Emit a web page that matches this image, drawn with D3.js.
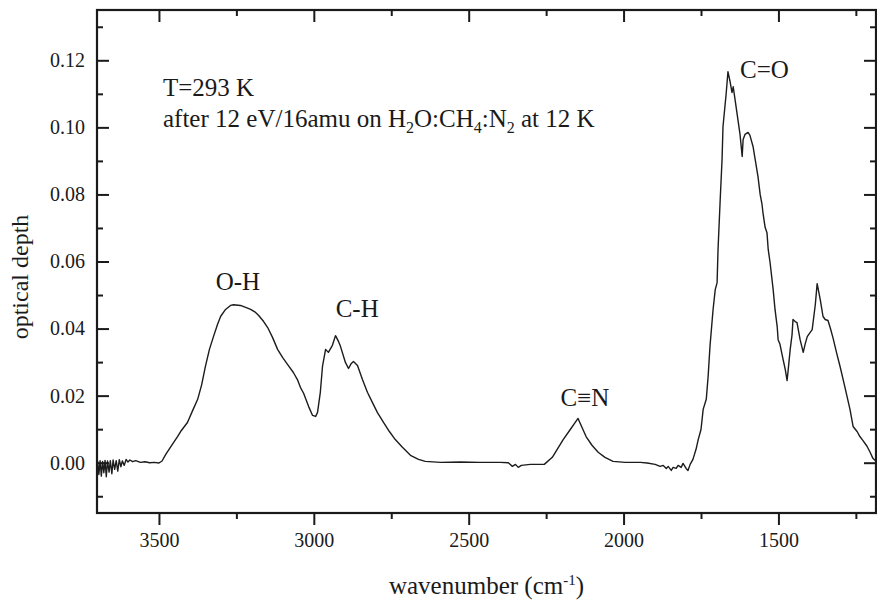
<!DOCTYPE html>
<html>
<head>
<meta charset="utf-8">
<script src="https://cdn.jsdelivr.net/npm/d3@7/dist/d3.min.js"></script>
<style>
  html, body { margin: 0; padding: 0; background: #fff; }
  svg { display: block; }
  text { font-family: "Liberation Serif", "Times New Roman", serif; fill: #1a1a1a; }
</style>
</head>
<body>
<svg id="chart" width="877" height="601"></svg>
<script>
// IR spectrum: wavenumber (cm^-1) and optical depth
const wavenumber = [
  3698, 3694, 3690, 3686, 3682, 3678, 3674, 3670, 3666, 3661, 3657, 3652, 3648, 3643, 3638, 3633,
  3628, 3623, 3618, 3612, 3606, 3600, 3594, 3585, 3575, 3560, 3545, 3530, 3515, 3500, 3490, 3478,
  3453, 3440, 3430, 3408, 3391, 3375, 3362, 3350, 3337, 3324, 3311, 3301, 3285, 3269, 3259, 3237,
  3220, 3204, 3188, 3178, 3162, 3149, 3133, 3117, 3101, 3085, 3066, 3053, 3043, 3033, 3017, 3004,
  2994, 2988, 2979, 2972, 2962, 2953, 2940, 2930, 2920, 2914, 2898, 2888, 2879, 2872, 2859, 2843,
  2827, 2811, 2795, 2775, 2756, 2737, 2714, 2688, 2662, 2640, 2591, 2527, 2462, 2398, 2372, 2359,
  2349, 2340, 2330, 2301, 2256, 2230, 2195, 2172, 2156, 2147, 2134, 2121, 2102, 2082, 2060, 2034,
  1995, 1946, 1924, 1898, 1882, 1872, 1862, 1856, 1846, 1840, 1830, 1824, 1814, 1808, 1798, 1792,
  1785, 1776, 1766, 1759, 1750, 1743, 1733, 1727, 1721, 1711, 1704, 1698, 1695, 1688, 1682, 1679,
  1669, 1663, 1656, 1650, 1646, 1640, 1634, 1624, 1617, 1614, 1608, 1598, 1592, 1582, 1575, 1566,
  1559, 1553, 1550, 1543, 1537, 1533, 1527, 1517, 1511, 1504, 1501, 1495, 1485, 1478, 1472, 1469,
  1462, 1456, 1453, 1446, 1440, 1430, 1420, 1414, 1407, 1398, 1391, 1381, 1375, 1365, 1356, 1349,
  1340, 1333, 1324, 1311, 1301, 1285, 1269, 1259, 1246, 1237, 1227, 1214, 1204, 1195, 1185
];
const opticalDepth = [
  0.0005, -0.0035, 0.0006, -0.0040, 0.0004, -0.0030, 0.0007, -0.0042, 0.0005, -0.0028, 0.0006, -0.0033, 0.0008, -0.0020, 0.0006, -0.0025,
  0.0009, -0.0012, 0.0005, -0.0008, 0.0010, 0.0002, 0.0008, 0.0003, 0.0006, 0.0001, 0.0003, 0.0000, 0.0001, -0.0001, 0.0005, 0.0025,
  0.0060, 0.0078, 0.0093, 0.0120, 0.0156, 0.0189, 0.0233, 0.0287, 0.0338, 0.0376, 0.0412, 0.0436, 0.0457, 0.0469, 0.0471, 0.0469,
  0.0463, 0.0457, 0.0448, 0.0439, 0.0421, 0.0403, 0.0373, 0.0338, 0.0314, 0.0293, 0.0269, 0.0248, 0.0224, 0.0207, 0.0168, 0.0141,
  0.0138, 0.0150, 0.0210, 0.0287, 0.0338, 0.0329, 0.0350, 0.0379, 0.0361, 0.0347, 0.0299, 0.0281, 0.0296, 0.0302, 0.0290, 0.0248,
  0.0210, 0.0180, 0.0150, 0.0120, 0.0093, 0.0069, 0.0046, 0.0022, 0.0010, 0.0004, 0.0001, 0.0002, 0.0001, 0.0001, 0.0000, -0.0011,
  -0.0005, -0.0014, -0.0008, -0.0005, -0.0005, 0.0016, 0.0069, 0.0099, 0.0120, 0.0132, 0.0105, 0.0078, 0.0052, 0.0031, 0.0016, 0.0004,
  0.0001, 0.0001, -0.0001, -0.0005, -0.0011, -0.0008, -0.0017, -0.0011, -0.0023, -0.0014, -0.0017, -0.0008, -0.0014, -0.0002, -0.0017, -0.0023,
  -0.0005, 0.0010, 0.0040, 0.0069, 0.0099, 0.0159, 0.0189, 0.0257, 0.0347, 0.0457, 0.0516, 0.0537, 0.0636, 0.0785, 0.0904, 0.1002,
  0.1098, 0.1166, 0.1136, 0.1104, 0.1121, 0.1083, 0.1044, 0.0979, 0.0913, 0.0964, 0.0979, 0.0985, 0.0976, 0.0943, 0.0904, 0.0853,
  0.0800, 0.0770, 0.0746, 0.0702, 0.0686, 0.0636, 0.0597, 0.0516, 0.0457, 0.0406, 0.0367, 0.0353, 0.0308, 0.0278, 0.0245, 0.0272,
  0.0338, 0.0382, 0.0427, 0.0421, 0.0418, 0.0367, 0.0329, 0.0353, 0.0376, 0.0388, 0.0397, 0.0471, 0.0534, 0.0486, 0.0436, 0.0427,
  0.0424, 0.0403, 0.0373, 0.0323, 0.0287, 0.0224, 0.0159, 0.0108, 0.0093, 0.0078, 0.0066, 0.0049, 0.0031, 0.0013, 0.0004
];

const xMajorTicks = [3500, 3000, 2500, 2000, 1500];
const xMinorTicks = [3250, 2750, 2250, 1750, 1250];
const yMajorTicks = [0.00, 0.02, 0.04, 0.06, 0.08, 0.10, 0.12];
const yMinorTicks = [-0.01, 0.01, 0.03, 0.05, 0.07, 0.09, 0.11, 0.13];

// Band labels placed at their wavenumber / optical depth
const bandNames = ["O-H", "C-H", "C\u2261N", "C=O"];
const bandX = [3245, 2860, 2125, 1545];
const bandY = [0.0515, 0.0435, 0.0168, 0.1147];

const svg = d3.select("#chart");
const plotLeft = 97, plotRight = 876, plotTop = 10, plotBottom = 513;

const x = d3.scaleLinear().domain([3700, 1185]).range([plotLeft, plotRight]);
const y = d3.scaleLinear().domain([-0.015, 0.135]).range([plotBottom, plotTop]);

const fmtY = d3.format(".2f");

// Spectrum
const data = wavenumber.map((w, i) => [w, opticalDepth[i]]);
svg.append("path")
  .datum(data)
  .attr("fill", "none")
  .attr("stroke", "#1c1c1c")
  .attr("stroke-width", 1.4)
  .attr("stroke-linejoin", "round")
  .attr("d", d3.line().x(d => x(d[0])).y(d => y(d[1])));

// Bottom axis (outward ticks, labelled)
svg.append("g").attr("transform", `translate(0,${plotBottom})`)
  .call(d3.axisBottom(x).tickValues(xMajorTicks).tickSize(12).tickPadding(8).tickFormat(d3.format("d")));
svg.append("g").attr("transform", `translate(0,${plotBottom})`)
  .call(d3.axisBottom(x).tickValues(xMinorTicks).tickSize(6).tickFormat(""));

// Top axis (inward ticks)
svg.append("g").attr("transform", `translate(0,${plotTop})`)
  .call(d3.axisTop(x).tickValues(xMajorTicks).tickSize(-12).tickFormat(""));
svg.append("g").attr("transform", `translate(0,${plotTop})`)
  .call(d3.axisTop(x).tickValues(xMinorTicks).tickSize(-6).tickFormat(""));

// Left axis (inward ticks, labelled)
svg.append("g").attr("transform", `translate(${plotLeft},0)`)
  .call(d3.axisLeft(y).tickValues(yMajorTicks).tickSize(-12).tickPadding(12).tickFormat(fmtY));
svg.append("g").attr("transform", `translate(${plotLeft},0)`)
  .call(d3.axisLeft(y).tickValues(yMinorTicks).tickSize(-6).tickFormat(""));

// Right axis (inward ticks)
svg.append("g").attr("transform", `translate(${plotRight},0)`)
  .call(d3.axisRight(y).tickValues(yMajorTicks).tickSize(-12).tickFormat(""));
svg.append("g").attr("transform", `translate(${plotRight},0)`)
  .call(d3.axisRight(y).tickValues(yMinorTicks).tickSize(-6).tickFormat(""));

svg.selectAll(".domain").remove();
svg.selectAll(".tick line").attr("stroke", "#1a1a1a").attr("stroke-width", 2);
svg.selectAll(".tick text").attr("font-size", 20).attr("font-family", "'Liberation Serif', serif").attr("fill", "#1a1a1a");

// Frame
svg.append("rect")
  .attr("x", plotLeft).attr("y", plotTop)
  .attr("width", plotRight - plotLeft).attr("height", plotBottom - plotTop)
  .attr("fill", "none").attr("stroke", "#1a1a1a").attr("stroke-width", 2.2);

// Axis titles
const xt = svg.append("text")
  .attr("x", (plotLeft + plotRight) / 2).attr("y", 594)
  .attr("text-anchor", "middle").attr("font-size", 25);
xt.append("tspan").text("wavenumber (cm");
xt.append("tspan").attr("font-size", 15).attr("dy", -9).text("-1");
xt.append("tspan").attr("dy", 9).text(")");

svg.append("text")
  .attr("transform", "translate(28,277) rotate(-90)")
  .attr("text-anchor", "middle").attr("font-size", 24)
  .text("optical depth");

// Annotation
svg.append("text").attr("x", 163).attr("y", 96).attr("font-size", 25).text("T=293 K");
const note = svg.append("text").attr("x", 163).attr("y", 127).attr("font-size", 25);
const parts = [
  ["after 12 eV/16amu on H", 0], ["2", 1], ["O:CH", 0], ["4", 1], [":N", 0], ["2", 1], [" at 12 K", 0]
];
let prevSub = false;
parts.forEach(([t, sub]) => {
  const ts = note.append("tspan").text(t);
  if (sub) { ts.attr("font-size", 16).attr("dy", 6); prevSub = true; }
  else if (prevSub) { ts.attr("dy", -6); prevSub = false; }
});

// Band labels
svg.selectAll(".band")
  .data(bandNames)
  .enter().append("text")
  .attr("class", "band")
  .attr("x", (d, i) => x(bandX[i]))
  .attr("y", (d, i) => y(bandY[i]))
  .attr("text-anchor", "middle")
  .attr("font-size", 25)
  .text(d => d);
</script>
</body>
</html>
